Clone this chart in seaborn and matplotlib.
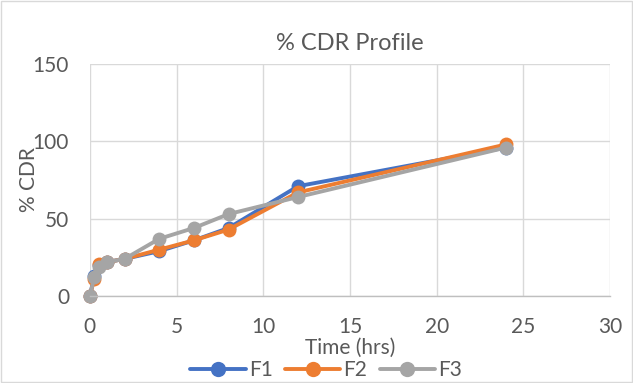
import matplotlib
matplotlib.use("Agg")
import matplotlib.pyplot as plt
import seaborn as sns
import pandas as pd
from matplotlib.patches import Rectangle

time_hrs = [0, 0.25, 0.5, 1, 2, 4, 6, 8, 12, 24]
f1 = [0, 13, 20, 22, 24, 29, 36, 44, 71, 96]
f2 = [0, 11, 21, 22, 24, 30, 36, 43, 67, 98]
f3 = [0, 12, 19, 22, 24, 37, 44, 53, 64, 96]
series_names = ["F1", "F2", "F3"]
colors = ["#4472C4", "#ED7D31", "#A5A5A5"]

df = pd.concat([
    pd.DataFrame({"Time": time_hrs, "CDR": vals, "Series": name})
    for name, vals in zip(series_names, [f1, f2, f3])
])

sns.set_style("white")
plt.rcParams['font.family'] = ['Lato', 'DejaVu Sans']
text_color = "#595959"

fig = plt.figure(figsize=(6.33, 3.83), dpi=100)
ax = fig.add_axes([0.142, 0.227, 0.822, 0.606])

sns.lineplot(data=df, x="Time", y="CDR", hue="Series", hue_order=series_names,
             palette=colors, marker="o", markersize=10, linewidth=2.8,
             markeredgewidth=0, ax=ax, legend=True)

ax.set_xlim(0, 30)
ax.set_ylim(0, 150)
ax.set_xticks([0, 5, 10, 15, 20, 25, 30])
ax.set_yticks([0, 50, 100, 150])
ax.grid(True, color="#D9D9D9", linewidth=1)
ax.set_axisbelow(True)
for s in ["top", "right", "left"]:
    ax.spines[s].set_visible(False)
ax.spines["bottom"].set_color("#BFBFBF")
ax.spines["bottom"].set_linewidth(1)
for line in ax.lines:
    line.set_clip_on(False)
ax.tick_params(axis="y", length=0, labelsize=15, labelcolor=text_color, pad=15)
ax.tick_params(axis="x", length=0, labelsize=15, labelcolor=text_color, pad=15)
ax.set_xlabel("Time (hrs)", fontsize=15, color=text_color)
ax.xaxis.set_label_coords(0.5, -0.178)
ax.set_ylabel("% CDR", fontsize=15, color=text_color)
ax.yaxis.set_label_coords(-0.097, 0.5)
ax.set_title("% CDR Profile", fontsize=17, color=text_color, pad=10)

handles, labels = ax.get_legend_handles_labels()
for h in handles:
    h.set_markersize(11)
ax.legend(handles, labels, loc="center", bbox_to_anchor=(0.454, -0.318),
          ncol=3, frameon=False, fontsize=15, labelcolor=text_color,
          handlelength=2.65, handletextpad=0.15, columnspacing=0.6,
          borderaxespad=0, borderpad=0)

fig.patches.append(Rectangle((0.002, 0.003), 0.996, 0.994, transform=fig.transFigure,
                             fill=False, edgecolor="#D9D9D9", linewidth=1))

fig.savefig("out.png", dpi=100)
